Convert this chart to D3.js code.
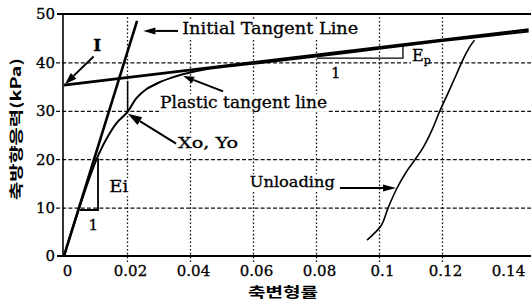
<!DOCTYPE html>
<html><head><meta charset="utf-8">
<script src="https://cdn.jsdelivr.net/npm/d3@7"></script>
<style>
html,body{margin:0;padding:0;background:#fff;}
svg{display:block;}
</style></head>
<body>
<script>
// ---- data ----
const xTicks = [0, 0.02, 0.04, 0.06, 0.08, 0.1, 0.12, 0.14];
const xTickLabels = ["0", "0.02", "0.04", "0.06", "0.08", "0.1", "0.12", "0.14"];
const xGridTicks = [0.02, 0.04, 0.06, 0.08, 0.1, 0.12];
const yTicks = [0, 10, 20, 30, 40, 50];
const yGridTicks = [10, 20, 30, 40];

// stress-strain curve (strain, stress kPa)
const curveStrain = [0, 0.004, 0.008, 0.011, 0.014, 0.017, 0.0202, 0.023, 0.026, 0.030, 0.034, 0.038, 0.045, 0.06, 0.08, 0.10, 0.12, 0.1475];
const curveStress = [0, 8.3, 16.0, 21.0, 24.8, 27.7, 29.8, 32.6, 34.4, 35.8, 36.8, 37.6, 38.6, 39.7, 41.2, 42.8, 44.4, 46.4];

// initial tangent line
const initStrain = [0, 0.0232];
const initStress = [0, 48.6];

// plastic tangent line
const plastStrain = [0, 0.1475];
const plastStress = [35.3, 46.8];

// unloading curve
const unloadStrain = [0.0962, 0.1008, 0.1028, 0.1057, 0.1085, 0.1114, 0.1140, 0.1168, 0.1192, 0.1218, 0.1245, 0.1268, 0.1288, 0.1303];
const unloadStress = [3.3, 6.4, 9.8, 14.0, 17.2, 19.9, 22.4, 26.0, 29.8, 33.5, 37.4, 40.8, 43.2, 44.6];

const xLabel = "축변형률";
const yLabel = "축방향응력(kPa)";

// ---- drawing ----
const W = 531, H = 304;
const svg = d3.select("body").append("svg").attr("width", W).attr("height", H);
svg.append("rect").attr("width", W).attr("height", H).attr("fill", "#fff");

const x = d3.scaleLinear().domain([0, 0.15]).range([64, 536.5]);
const y = d3.scaleLinear().domain([0, 50]).range([256, 14]);
const serif = "'DejaVu Serif', serif";

// grid: vertical dotted
const gx = svg.append("g").attr("transform", `translate(0,${y(0) + 6})`)
  .call(d3.axisBottom(x).tickValues(xGridTicks).tickSize(-(y(0) + 6 - y(50))).tickFormat(""));
gx.select(".domain").remove();
gx.selectAll("line").attr("stroke", "#111").attr("stroke-width", 1.3).attr("stroke-dasharray", "1.6,2.2");

// grid: horizontal dashed
const gy = svg.append("g").attr("transform", `translate(${x(0) - 8},0)`)
  .call(d3.axisLeft(y).tickValues(yGridTicks).tickSize(-(W - x(0) + 8)).tickFormat(""));
gy.select(".domain").remove();
gy.selectAll("line").attr("stroke", "#111").attr("stroke-width", 1.3).attr("stroke-dasharray", "4,2.2");

// frame
svg.append("line").attr("x1", x(0) - 1).attr("x2", x(0) - 1).attr("y1", y(50)).attr("y2", y(0))
  .attr("stroke", "#000").attr("stroke-width", 1.6);
svg.append("line").attr("x1", x(0) - 7).attr("x2", W).attr("y1", y(0)).attr("y2", y(0))
  .attr("stroke", "#000").attr("stroke-width", 2.2);
svg.append("line").attr("x1", x(0) - 7).attr("x2", W).attr("y1", y(50)).attr("y2", y(50))
  .attr("stroke", "#000").attr("stroke-width", 2.2);

// x tick labels
const ax = svg.append("g").attr("transform", `translate(3,${y(0)})`)
  .call(d3.axisBottom(x).tickValues(xTicks).tickSize(0).tickPadding(9)
    .tickFormat((d, i) => xTickLabels[i]));
ax.select(".domain").remove();
ax.selectAll("text").attr("font-family", serif).attr("font-size", 15).attr("fill", "#000")
  .attr("stroke", "#000").attr("stroke-width", 0.3);

// y tick labels
const ay = svg.append("g").attr("transform", `translate(${x(0) - 9},0)`)
  .call(d3.axisLeft(y).tickValues(yTicks).tickSize(0).tickPadding(0));
ay.select(".domain").remove();
ay.selectAll("text").attr("font-family", serif).attr("font-size", 15).attr("fill", "#000")
  .attr("stroke", "#000").attr("stroke-width", 0.3);

// axis titles
svg.append("text").attr("x", 283).attr("y", 297).attr("text-anchor", "middle")
  .attr("font-family", "'Noto Sans CJK KR'").attr("font-weight", 700).attr("font-size", 14)
  .attr("textLength", 70).attr("lengthAdjust", "spacingAndGlyphs").text(xLabel);
svg.append("text").attr("transform", "translate(21,129) rotate(-90)").attr("text-anchor", "middle")
  .attr("font-family", "'Noto Sans CJK KR'").attr("font-weight", 700).attr("font-size", 14)
  .attr("textLength", 142).attr("lengthAdjust", "spacingAndGlyphs").text(yLabel);

const zipPts = (a, b) => a.map((v, i) => [v, b[i]]);
const straight = d3.line().x(d => x(d[0])).y(d => y(d[1]));
const smooth = d3.line().x(d => x(d[0])).y(d => y(d[1])).curve(d3.curveCatmullRom);

// plastic tangent line
svg.append("path").datum(zipPts(plastStrain, plastStress)).attr("d", straight)
  .attr("fill", "none").attr("stroke", "#000").attr("stroke-width", 2.6);
// stress-strain curve
svg.append("path").datum(zipPts(curveStrain, curveStress)).attr("d", smooth)
  .attr("fill", "none").attr("stroke", "#000").attr("stroke-width", 2);
// initial tangent line
svg.append("path").datum(zipPts(initStrain, initStress)).attr("d", straight)
  .attr("fill", "none").attr("stroke", "#000").attr("stroke-width", 2.6);
// unloading curve
svg.append("path").datum(zipPts(unloadStrain, unloadStress)).attr("d", smooth)
  .attr("fill", "none").attr("stroke", "#000").attr("stroke-width", 1.6);

// Xo marker vertical
svg.append("line").attr("x1", x(0.0202)).attr("x2", x(0.0202)).attr("y1", y(29.8)).attr("y2", y(36.2))
  .attr("stroke", "#000").attr("stroke-width", 1.5);

// Ei slope triangle
svg.append("path").attr("d", `M${x(0.0051)},${y(9.5)}H${x(0.0108)}V${y(20.2)}`)
  .attr("fill", "none").attr("stroke", "#000").attr("stroke-width", 1.8);
// Ep slope triangle
svg.append("path").attr("d", `M${x(0.0803)},${y(40.9)}H${x(0.1076)}V${y(35.3 + 0.1076 * 78)}`)
  .attr("fill", "none").attr("stroke", "#000").attr("stroke-width", 1.3);

// labels with white backgrounds
function label(tx, ty, str, size, len, bg) {
  const g = svg.append("g");
  const t = g.append("text").attr("x", x(tx)).attr("y", y(ty))
    .attr("font-family", serif).attr("font-size", size).attr("fill", "#000")
    .attr("stroke", "#000").attr("stroke-width", 0.3).text(str);
  if (len) t.attr("textLength", len).attr("lengthAdjust", "spacingAndGlyphs");
  if (bg) {
    const b = t.node().getBBox();
    g.insert("rect", "text").attr("x", b.x - 1).attr("y", b.y + 1).attr("width", b.width + 2)
      .attr("height", b.height - 1).attr("fill", "#fff");
  }
  return t;
}
label(0.0375, 45.9, "Initial Tangent Line", 16, 176, true);
label(0.0305, 30.6, "Plastic tangent line", 16, 167, true);
label(0.0362, 22.4, "Xo, Yo", 15, 60, true);
label(0.059, 14.3, "Unloading", 15, 85, true);
label(0.0144, 13.2, "Ei", 16, 19, true);
label(0.0093, 42.4, "I", 17, null, false).attr("font-weight", 700);
label(0.0078, 5.4, "1", 15, null, false);
label(0.0848, 36.8, "1", 15, null, false);
const ep = label(0.1105, 40.3, "E", 16, null, true);
ep.append("tspan").attr("font-size", 11).attr("dy", 3).text("p");

// arrows
function arrow(x1, y1, x2, y2, len, wid) {
  const X1 = x(x1), Y1 = y(y1), X2 = x(x2), Y2 = y(y2);
  const a = Math.atan2(Y2 - Y1, X2 - X1);
  const bx = X2 - len * Math.cos(a), by = Y2 - len * Math.sin(a);
  svg.append("line").attr("x1", X1).attr("y1", Y1).attr("x2", bx).attr("y2", by)
    .attr("stroke", "#000").attr("stroke-width", 2);
  const px = -Math.sin(a) * wid / 2, py = Math.cos(a) * wid / 2;
  svg.append("path").attr("d", `M${X2},${Y2}L${bx + px},${by + py}L${bx - px},${by - py}Z`).attr("fill", "#000");
}
arrow(0.0362, 46.5, 0.0252, 46.5, 12, 7);
arrow(0.0094, 41.2, 0.0003, 35.5, 12, 8);
arrow(0.0505, 34.0, 0.0378, 37.2, 11, 7);
arrow(0.0356, 23.2, 0.0203, 29.4, 14, 9);
arrow(0.0876, 14.05, 0.1054, 14.05, 13, 7);
</script>
</body></html>
